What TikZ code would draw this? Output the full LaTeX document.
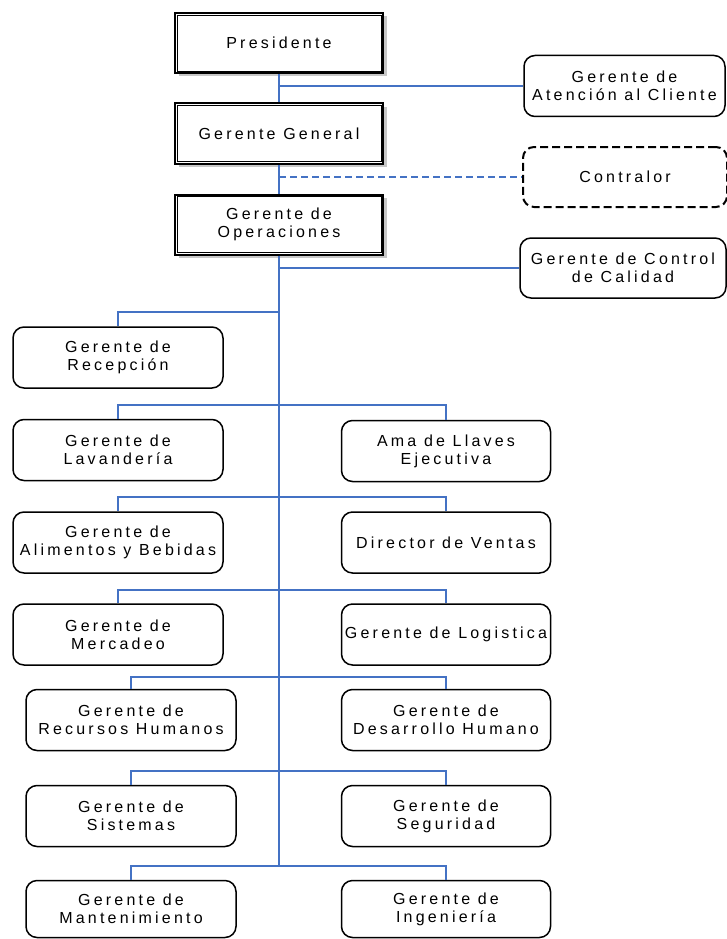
\documentclass[tikz,border=0pt]{standalone}
\usepackage{fontspec}
\newfontfamily\lsf[LetterSpace=20]{Liberation Sans}
\usetikzlibrary{shadows}
\definecolor{lblue}{RGB}{68,114,196}
\tikzset{
  txt/.style={font=\lsf\fontsize{16}{17.8}\selectfont, align=center, text=black, inner sep=0pt},
  dbox/.style={txt, draw=black, line width=2pt, fill=white, minimum width=208pt, minimum height=60pt,
     drop shadow={shadow xshift=3.5pt, shadow yshift=-3.5pt, fill=black!22, opacity=1}},
  rbox/.style={txt, draw=black, line width=1.5pt, rounded corners=11pt, fill=white, minimum height=61pt},
  dashbox/.style={rbox, dash pattern=on 8pt off 4pt, line width=2pt},
  conn/.style={draw=lblue, line width=1.6pt},
  trunk/.style={draw=lblue, line width=2.8pt},
  dconn/.style={draw=lblue, line width=1.6pt, dash pattern=on 7pt off 4pt}
}
\begin{document}
\begin{tikzpicture}[x=1pt,y=-1pt]
\useasboundingbox (0,0) rectangle (726,939);
% top chain
\node[dbox] (pres) at (279,43) {Presidente};
\node[dbox] (gg) at (279,133.5) {Gerente General};
\node[dbox] (ops) at (279,224.5) {Gerente de\\Operaciones};
\foreach \n in {pres,gg,ops}{
  \draw[line width=0.9pt] ([xshift=3pt,yshift=-3pt]\n.north west) rectangle ([xshift=-3pt,yshift=3pt]\n.south east);
}
% staff boxes
\node[rbox, minimum width=201pt] (aten) at (624.5,86) {Gerente de\\Atención al Cliente};
\node[dashbox, minimum width=204pt, minimum height=60pt] (contr) at (625,177) {Contralor};
\node[rbox, minimum width=206pt, minimum height=60pt] (cal) at (623,268) {Gerente de Control\\de Calidad};
% left column
\node[rbox, minimum width=210pt] (rec) at (118,357.5) {Gerente de\\Recepción};
\node[rbox, minimum width=210pt] (lav) at (118,450) {Gerente de\\Lavandería};
\node[rbox, minimum width=210pt] (ali) at (118,542.5) {Gerente de\\Alimentos y Bebidas};
\node[rbox, minimum width=210pt] (mer) at (118,634.5) {Gerente de\\Mercadeo};
\node[rbox, minimum width=210pt] (rh) at (131,720) {Gerente de\\Recursos Humanos};
\node[rbox, minimum width=210pt] (sis) at (131,816) {Gerente de\\Sistemas};
\node[rbox, minimum width=210pt, minimum height=57pt] (man) at (131,909) {Gerente de\\Mantenimiento};
% right column
\node[rbox, minimum width=209pt] (ama) at (446,451) {Ama de Llaves\\Ejecutiva};
\node[rbox, minimum width=209pt] (ven) at (446,542.5) {Director de Ventas};
\node[rbox, minimum width=209pt] (log) at (446,634.5) {Gerente de Logistica};
\node[rbox, minimum width=209pt] (dh) at (446,720) {Gerente de\\Desarrollo Humano};
\node[rbox, minimum width=209pt] (seg) at (446,816) {Gerente de\\Seguridad};
\node[rbox, minimum width=209pt, minimum height=57pt] (ing) at (446,909) {Gerente de\\Ingeniería};
% trunk coordinates
\coordinate (ba) at (279,86);
\coordinate (bc) at (279,177);
\coordinate (bq) at (279,268);
\coordinate (t1) at (279,312);
\coordinate (t2) at (279,405);
\coordinate (t3) at (279,497);
\coordinate (t4) at (279,590);
\coordinate (t5) at (279,677);
\coordinate (t6) at (279,771);
\coordinate (t7) at (279,866);
% connectors
\draw[conn] (pres.south) -- (gg.north);
\draw[conn] (gg.south) -- (ops.north);
\draw[conn] (ba) -- (aten.west);
\draw[dconn] (bc) -- (contr.west);
\draw[conn] (bq) -- (cal.west);
\draw[trunk] (ops.south) -- (t7);
\draw[conn] (t1) -| (rec.north);
\draw[conn] (t2) -| (lav.north);
\draw[conn] (t2) -| (ama.north);
\draw[conn] (t3) -| (ali.north);
\draw[conn] (t3) -| (ven.north);
\draw[conn] (t4) -| (mer.north);
\draw[conn] (t4) -| (log.north);
\draw[conn] (t5) -| (rh.north);
\draw[conn] (t5) -| (dh.north);
\draw[conn] (t6) -| (sis.north);
\draw[conn] (t6) -| (seg.north);
\draw[conn] (t7) -| (man.north);
\draw[conn] (t7) -| (ing.north);
\end{tikzpicture}
\end{document}
